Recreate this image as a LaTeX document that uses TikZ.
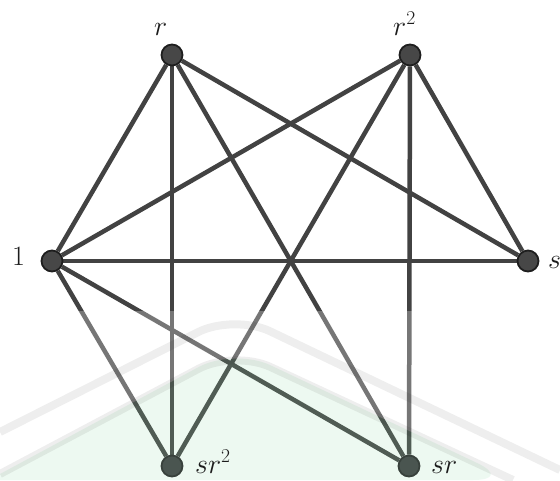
\RequirePackage{fix-cm}
\documentclass[tikz,border=0pt]{standalone}
\pgfdeclarelayer{edgelayer}
\pgfdeclarelayer{wmlayer}
\pgfdeclarelayer{frontlayer}
\pgfsetlayers{edgelayer,main,wmlayer,frontlayer}
\definecolor{edgecol}{HTML}{424242}
\definecolor{nodefill}{HTML}{474747}
\definecolor{nodeline}{HTML}{1E1E1E}
\definecolor{lowfill}{HTML}{4A5550}
\definecolor{lowline}{HTML}{38413C}
\definecolor{wmgreen}{RGB}{150,225,175}
\definecolor{labcol}{HTML}{1C1C1C}
\tikzset{
  vertex/.style={circle, draw=nodeline, line width=1.8pt, fill=nodefill, inner sep=0pt, minimum size=21pt},
  lowvertex/.style={vertex, draw=lowline, fill=lowfill},
  edge/.style={draw=edgecol, line width=4.5pt},
  lab/.style={inner sep=0pt, text=labcol, font=\fontsize{28}{32}\selectfont, anchor=base west},
  wmband/.style={draw=black, opacity=0.065, line width=8pt, rounded corners=40pt}
}
\begin{document}
\begin{tikzpicture}[x=1pt,y=-1pt]
\useasboundingbox (0,0) rectangle (560,480);
% vertices
\node[vertex] (r) at (172,55) {};
\node[vertex] (r2) at (410,55) {};
\node[vertex] (one) at (52,261) {};
\node[vertex] (s) at (528,261) {};
\begin{pgfonlayer}{frontlayer}
\node[lowvertex] (sr2) at (172,466) {};
\node[lowvertex] (sr) at (409,466) {};
\node[lab] (lsr2) at (195,473) {$sr^2$};
\node[lab] (lsr) at (431,473) {$sr$};
\end{pgfonlayer}
% labels
\node[lab] (lr) at (154,35) {$r$};
\node[lab] (lr2) at (393,35) {$r^2$};
\node[lab] (lone) at (12,265) {$1$};
\node[lab] (ls) at (548,268) {$s$};
% edges
\begin{pgfonlayer}{edgelayer}
\fill[white] (0,0) rectangle (560,480);
\draw[edge] (one) -- (r);
\draw[edge] (one) -- (r2);
\draw[edge] (one) -- (s);
\draw[edge] (one) -- (sr2);
\draw[edge] (one) -- (sr);
\draw[edge] (r) -- (sr2);
\draw[edge] (r) -- (sr);
\draw[edge] (r) -- (s);
\draw[edge] (r2) -- (sr2);
\draw[edge] (r2) -- (sr);
\draw[edge] (r2) -- (s);
\end{pgfonlayer}
% watermark
\begin{pgfonlayer}{wmlayer}
\fill[white, opacity=0.28, even odd rule] (0,311) rectangle (560,480)
  [rounded corners=40pt] (0,474) -- (234,348) -- (513,480) [sharp corners] -- (0,480) -- cycle;
\fill[wmgreen, opacity=0.17, rounded corners=40pt] (0,474) -- (234,348) -- (513,480) [sharp corners] -- (0,480) -- cycle;
\draw[wmband] (0,432) -- (234,314) -- (560,470);
\draw[wmband] (0,474) -- (234,350) -- (513,480);
\end{pgfonlayer}
\end{tikzpicture}
\end{document}
